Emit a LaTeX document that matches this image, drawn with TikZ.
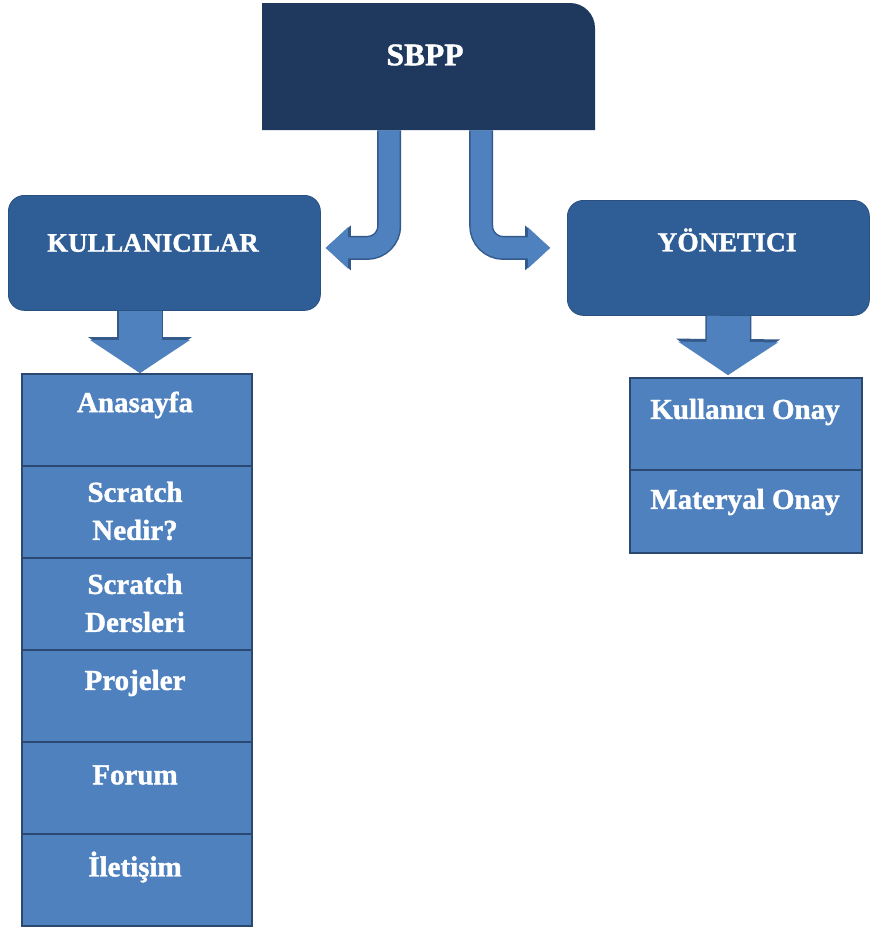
\documentclass[tikz,border=0pt]{standalone}
\usepackage{fontspec}
\setmainfont{Liberation Serif}[BoldFeatures={FakeBold=1.3}]
\usetikzlibrary{arrows.meta,calc}
\definecolor{navy}{RGB}{31,56,94}
\definecolor{hdr}{RGB}{47,94,150}
\definecolor{cellfill}{RGB}{78,129,190}
\definecolor{cellline}{RGB}{42,72,112}
\definecolor{arrline}{RGB}{52,90,140}
\begin{document}
\begin{tikzpicture}[x=1pt,y=-1pt,
  hdrtxt/.style={text=white,font=\fontsize{27.5}{32}\selectfont\bfseries,inner sep=0pt},
  celltxt/.style={text=white,font=\fontsize{29}{38}\selectfont\bfseries,align=center,inner sep=0pt},
  hdrbox/.style={fill=hdr,draw=hdr!85!black,line width=0.8pt,rounded corners=16pt,inner sep=0pt,anchor=north west},
  cellbox/.style={draw=cellline,line width=1.6pt,fill=cellfill,minimum width=230pt,inner sep=0pt,anchor=north},
  curveout/.style={draw=arrline,line width=24pt,rounded corners=22pt,-{Triangle[length=25pt,width=45pt,line width=0pt]}},
  curvein/.style={draw=cellfill,line width=21pt,rounded corners=22pt,-{Triangle[length=22pt,width=41pt,line width=0pt]}},
  downout/.style={draw=arrline,line width=46pt,-{Triangle[length=36pt,width=104pt,line width=0pt]}},
  downin/.style={draw=cellfill,line width=43pt,-{Triangle[length=33pt,width=100pt,line width=0pt]}}
]
\useasboundingbox (0,0) rectangle (871,929);
\fill[white] (0,0) rectangle (871,929);

% top box
\fill[navy] (262,130) -- (262,3) -- (570,3) .. controls (583.8,3) and (595,14.2) .. (595,28) -- (595,130) -- cycle;
\node[minimum width=333pt,minimum height=127pt,inner sep=0pt,anchor=north west] (sbpp) at (262,3) {};
\node[hdrtxt,font=\fontsize{31.5}{34}\selectfont\bfseries] (sbpptxt) at (425,55) {SBPP};

% header boxes
\node[hdrbox,minimum width=312pt,minimum height=115pt] (kul) at (8,195) {};
\node[hdrtxt,font=\fontsize{26.8}{32}\selectfont\bfseries] (kultxt) at (153,243) {KULLANICILAR};
\node[hdrbox,minimum width=302pt,minimum height=115pt] (yon) at (567,200) {};
\node[hdrtxt] (yontxt) at (727,240) {YÖNETICI};

% left cells
\node[cellbox,minimum height=92pt] (c1) at (137,373) {};
\node[cellbox,minimum height=92pt] (c2) at (137,465) {};
\node[cellbox,minimum height=92pt] (c3) at (137,557) {};
\node[cellbox,minimum height=92pt] (c4) at (137,649) {};
\node[cellbox,minimum height=92pt] (c5) at (137,741) {};
\node[cellbox,minimum height=92pt] (c6) at (137,833) {};
\node[celltxt] (t1) at (135,405) {Anasayfa};
\node[celltxt] (t2) at (135,511) {Scratch\\Nedir?};
\node[celltxt] (t3) at (135,603) {Scratch\\Dersleri};
\node[celltxt] (t4) at (135,683) {Projeler};
\node[celltxt] (t5) at (135,775) {Forum};
\node[celltxt] (t6) at (135,867) {İletişim};

% right cells
\node[cellbox,minimum width=232pt,minimum height=92pt] (k1) at (746,377) {};
\node[cellbox,minimum width=232pt,minimum height=83pt] (k2) at (746,469) {};
\node[celltxt] (u1) at (745,412) {Kullanıcı Onay};
\node[celltxt] (u2) at (745,502) {Materyal Onay};

% curved arrows
\draw[curveout] ($(sbpp.south)+(-39.5,0)$) |- ($(kul.east)+(5,-5)$);
\draw[curvein]  ($(sbpp.south)+(-39.5,0)$) |- ($(kul.east)+(5,-5)$);
\draw[curveout] ($(sbpp.south)+(52.5,0)$) |- ($(yon.west)+(-17,-10)$);
\draw[curvein]  ($(sbpp.south)+(52.5,0)$) |- ($(yon.west)+(-17,-10)$);

% down arrows
\draw[downout] ($(kul.south -| c1.north)+(3,0)$) -- ($(c1.north)+(3,0)$);
\draw[downin]  ($(kul.south -| c1.north)+(3,0)$) -- ($(c1.north)+(3,0)$);
\draw[downout] ($(yon.south)+(10,0)$) -- ($(k1.north)+(-18,-2)$);
\draw[downin]  ($(yon.south)+(10,0)$) -- ($(k1.north)+(-18,-2)$);
\end{tikzpicture}
\end{document}
